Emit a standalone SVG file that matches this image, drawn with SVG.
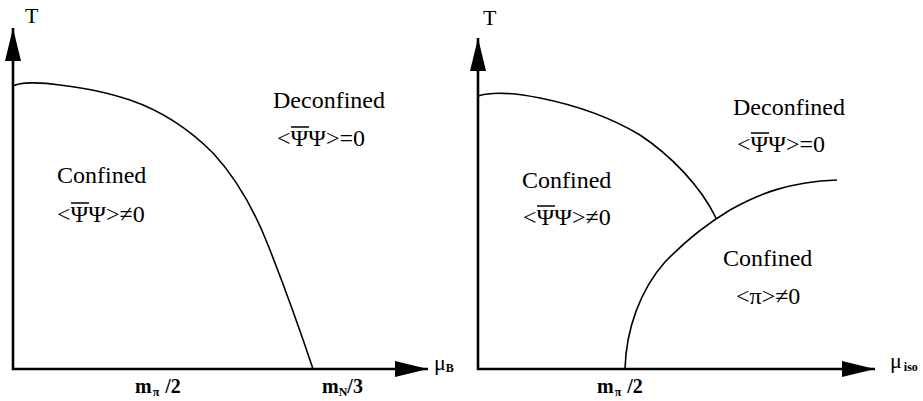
<svg xmlns="http://www.w3.org/2000/svg" width="923" height="401" viewBox="0 0 923 401">
<style>
text{font-family:'Liberation Serif','Times New Roman','DejaVu Serif',serif;fill:#000}
.axis{stroke:#000;stroke-width:2.6;fill:none}
.curve{stroke:#000;stroke-width:1.6;fill:none}
.lbl{font-size:24px}
.tick{font-size:20px;font-weight:bold}
.sub{font-size:12px}
.ax{font-size:22px}
.bar{stroke:#000;stroke-width:1.5}
</style>
<defs>
<marker id="arr" viewBox="0 0 33 16" refX="33" refY="8" markerWidth="33" markerHeight="16" markerUnits="userSpaceOnUse" orient="auto">
<path d="M0,0 L33,8 L0,16 Z" fill="#000"/>
</marker>
</defs>
<g id="left-axes">
<line class="axis" x1="13" y1="370" x2="13" y2="28" marker-end="url(#arr)"/>
<line class="axis" x1="12" y1="369" x2="428" y2="369" marker-end="url(#arr)"/>
<text class="ax" x="25" y="23">T</text>
<text class="ax" x="434" y="370">μ<tspan class="sub" font-weight="bold" dy="2">B</tspan></text>
<text class="tick" x="135" y="393">m<tspan class="sub" dx="1" dy="3">π</tspan><tspan dx="6" dy="-3">/2</tspan></text>
<text class="tick" x="322" y="393">m<tspan class="sub" dy="3">N</tspan><tspan dy="-3">/3</tspan></text>
</g>
<g id="right-axes">
<line class="axis" x1="478" y1="370" x2="478" y2="38" marker-end="url(#arr)"/>
<line class="axis" x1="477" y1="369" x2="875" y2="369" marker-end="url(#arr)"/>
<text class="ax" x="483" y="25">T</text>
<text class="ax" x="890" y="368">μ<tspan class="sub" font-weight="bold" dx="2" dy="3">iso</tspan></text>
<text class="tick" x="597" y="393">m<tspan class="sub" dx="1" dy="3">π</tspan><tspan dx="6" dy="-3">/2</tspan></text>
</g>
<g id="connectors">
<path class="curve" d="M13,86 C20,82 40,82 60,85 C90,89 105,92 130,100 C165,112 190,130 213,153 C238,180 255,212 268,245 C283,283 300,330 313,369"/>
<path class="curve" d="M478,96 C490,92 510,92 540,98 C580,106 610,117 640,135 C670,155 700,185 716,218"/>
<path class="curve" d="M625,369 C626,330 640,290 665,262 C690,236 710,222 730,210 C760,193 790,182 837,180"/>
</g>
<g id="left-confined">
<text class="lbl" x="57" y="183">Confined</text>
<text class="lbl" x="57" y="222">&lt;ΨΨ&gt;≠0</text>
<line class="bar" x1="71" y1="203" x2="89" y2="203"/>
</g>
<g id="left-deconfined">
<text class="lbl" x="273" y="108">Deconfined</text>
<text class="lbl" x="277" y="146">&lt;ΨΨ&gt;=0</text>
<line class="bar" x1="291" y1="127" x2="309" y2="127"/>
</g>
<g id="right-confined">
<text class="lbl" x="522" y="188">Confined</text>
<text class="lbl" x="523" y="225">&lt;ΨΨ&gt;≠0</text>
<line class="bar" x1="537" y1="206" x2="555" y2="206"/>
</g>
<g id="right-deconfined">
<text class="lbl" x="733" y="115">Deconfined</text>
<text class="lbl" x="737" y="152">&lt;ΨΨ&gt;=0</text>
<line class="bar" x1="751" y1="133" x2="769" y2="133"/>
</g>
<g id="right-pion">
<text class="lbl" x="723" y="266">Confined</text>
<text class="lbl" x="736" y="304">&lt;π&gt;≠0</text>
</g>
</svg>
